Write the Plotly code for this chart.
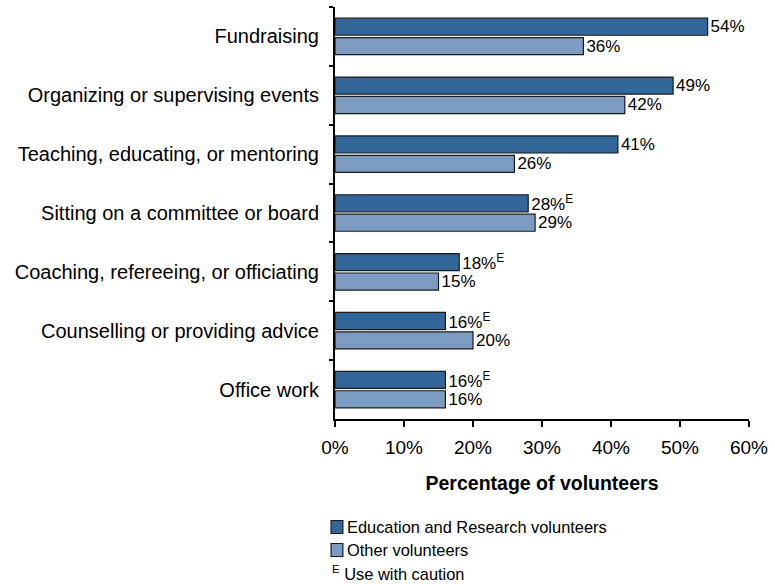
import plotly.graph_objects as go

# Volunteer activities, share of volunteers doing each
categories = [
    "Fundraising",
    "Organizing or supervising events",
    "Teaching, educating, or mentoring",
    "Sitting on a committee or board",
    "Coaching, refereeing, or officiating",
    "Counselling or providing advice",
    "Office work",
]
edu_values = [54, 49, 41, 28, 18, 16, 16]
other_values = [36, 42, 26, 29, 15, 20, 16]
# estimates flagged "use with caution"
edu_caution = [False, False, False, True, True, True, True]
other_caution = [False] * 7

series_names = ["Education and Research volunteers", "Other volunteers"]
x_ticks = [0, 10, 20, 30, 40, 50, 60]

DARK = "#336699"
LIGHT = "#7B9CC0"
EDGE = "#1a1a1a"
FONT = "Liberation Sans, Arial, sans-serif"


def labels(values, caution):
    return [f"{v}%" + ("<sup>E</sup>" if c else "") for v, c in zip(values, caution)]


fig = go.Figure()
for name, vals, caution, color in [
    (series_names[0], edu_values, edu_caution, DARK),
    (series_names[1], other_values, other_caution, LIGHT),
]:
    fig.add_trace(go.Bar(
        y=categories, x=vals, orientation="h", name=name,
        marker=dict(color=color, line=dict(color=EDGE, width=1.2)),
        text=labels(vals, caution), textposition="outside",
        constraintext="none",
        textfont=dict(family=FONT, size=17, color="#000"),
        cliponaxis=False, showlegend=False,
    ))

L, R, T, B = 335, 20, 7, 165
W, H = 775, 584
pw, ph = W - L - R, H - T - B


def px_x(px):
    return (px - L) / pw


def px_y(py):
    return (H - B - py) / ph


shapes, annotations = [], []
# hand-drawn legend entries
for i, (name, color) in enumerate(zip(series_names, [DARK, LIGHT])):
    yc = 527 + i * 23
    shapes.append(dict(
        type="rect", xref="paper", yref="paper",
        x0=px_x(331), x1=px_x(343), y0=px_y(yc - 6.5), y1=px_y(yc + 6.5),
        fillcolor=color, line=dict(color=EDGE, width=1.2),
    ))
    annotations.append(dict(
        xref="paper", yref="paper", x=px_x(345), y=px_y(yc),
        xanchor="left", yanchor="middle", showarrow=False, text=name,
        font=dict(family=FONT, size=16.4, color="#000"),
    ))
annotations.append(dict(
    xref="paper", yref="paper", x=px_x(330), y=px_y(573),
    xanchor="left", yanchor="middle", showarrow=False,
    text="<sup>E</sup> Use with caution",
    font=dict(family=FONT, size=16.4, color="#000"),
))

fig.update_layout(
    width=W, height=H,
    margin=dict(l=L, r=R, t=T, b=B, pad=0),
    paper_bgcolor="white", plot_bgcolor="white",
    barmode="group", bargap=0.34, bargroupgap=0.12,
    font=dict(family=FONT, color="#000"),
    shapes=shapes, annotations=annotations,
    xaxis=dict(
        range=[0, 60], tickvals=x_ticks, ticktext=[f"{t}%" for t in x_ticks],
        showgrid=False, zeroline=False, showline=True, linecolor="#000", linewidth=2,
        ticks="outside", ticklen=6, tickwidth=2, tickcolor="#000",
        tickfont=dict(family=FONT, size=19), ticklabelstandoff=4,
        title=dict(text="<b>Percentage of volunteers</b>", standoff=20,
                   font=dict(family=FONT, size=19.5)),
    ),
    yaxis=dict(
        autorange="reversed", showgrid=False, showline=True, linecolor="#000", linewidth=2,
        ticks="outside", ticklen=4, tickwidth=2, tickcolor="#000", tickson="boundaries",
        tickfont=dict(family=FONT, size=20), ticklabelstandoff=10,
    ),
)

fig.write_html("out.html")
